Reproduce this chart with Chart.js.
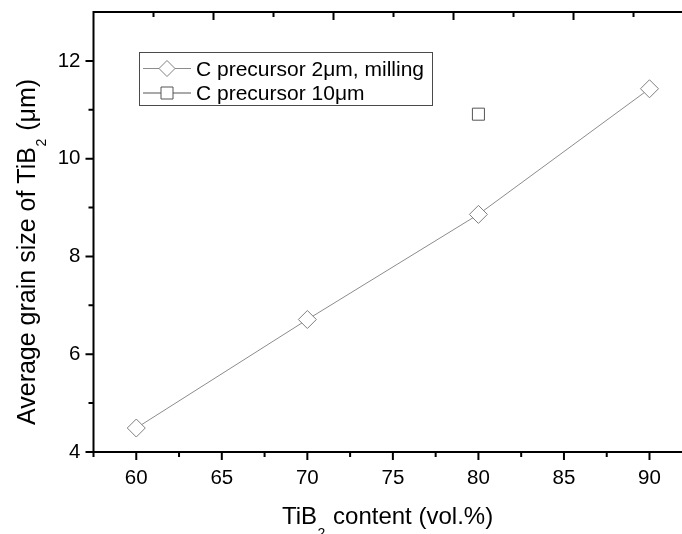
<!DOCTYPE html>
<html>
<head>
<meta charset="utf-8">
<script src="https://cdn.jsdelivr.net/npm/chart.js@4/dist/chart.umd.min.js"></script>
<style>
  html, body { margin: 0; padding: 0; background: #fff; }
  #wrap { width: 682px; height: 534px; }
</style>
</head>
<body>
<div id="wrap"><canvas id="c" width="682" height="534"></canvas></div>
<script>
// TiB2 grain size vs. TiB2 content
const contentMilled = [60, 70, 80, 90];
const grainMilled = [4.49, 6.71, 8.86, 11.43];
const contentCoarse = [80];
const grainCoarse = [10.91];
const seriesLabels = ['C precursor 2\u03bcm, milling', 'C precursor 10\u03bcm'];

const xMajorTicks = [60, 65, 70, 75, 80, 85, 90];
const xMinorTicks = [57.5, 62.5, 67.5, 72.5, 77.5, 82.5, 87.5];
const yMajorTicks = [4, 6, 8, 10, 12];
const yMinorTicks = [5, 7, 9, 11];
const topMajorTicks = [2, 4, 6, 8];
const topMinorTicks = [1, 3, 5, 7, 9];

const FONT = "'Liberation Sans', Arial, Helvetica, sans-serif";
const MILLED_COLOR = '#7f7f7f';
const COARSE_COLOR = '#555555';

// axis frame (left, bottom, top) with major/minor tick marks
const framePlugin = {
  id: 'frame',
  afterDatasetsDraw(chart) {
    const { ctx, chartArea: a, scales } = chart;
    const x = scales.x, y = scales.y, x2 = scales.x2;
    ctx.save();
    ctx.strokeStyle = '#000';
    ctx.lineWidth = 2;
    ctx.lineCap = 'butt';
    ctx.beginPath();
    ctx.moveTo(a.right, a.top);
    ctx.lineTo(a.left, a.top);
    ctx.lineTo(a.left, a.bottom);
    ctx.lineTo(a.right, a.bottom);
    ctx.stroke();

    ctx.beginPath();
    xMajorTicks.forEach(v => { const p = x.getPixelForValue(v); ctx.moveTo(p, a.bottom); ctx.lineTo(p, a.bottom + 8); });
    xMinorTicks.forEach(v => { const p = x.getPixelForValue(v); ctx.moveTo(p, a.bottom); ctx.lineTo(p, a.bottom + 5); });
    yMajorTicks.forEach(v => { const p = y.getPixelForValue(v); ctx.moveTo(a.left - 8, p); ctx.lineTo(a.left, p); });
    yMinorTicks.forEach(v => { const p = y.getPixelForValue(v); ctx.moveTo(a.left - 5, p); ctx.lineTo(a.left, p); });
    topMajorTicks.forEach(v => { const p = x2.getPixelForValue(v); ctx.moveTo(p, a.top); ctx.lineTo(p, a.top + 8); });
    topMinorTicks.forEach(v => { const p = x2.getPixelForValue(v); ctx.moveTo(p, a.top); ctx.lineTo(p, a.top + 5); });
    ctx.stroke();
    ctx.restore();
  }
};

// axis titles with subscripts
const titlePlugin = {
  id: 'axisTitles',
  afterDraw(chart) {
    const { ctx } = chart;
    ctx.save();
    ctx.fillStyle = '#000';
    ctx.textBaseline = 'alphabetic';
    ctx.textAlign = 'left';

    // x title
    const big = '24px ' + FONT, small = '14px ' + FONT;
    let x0 = 282, base = 523.5;
    ctx.font = big;
    ctx.fillText('TiB', x0, base);
    x0 += ctx.measureText('TiB').width + 0.5;
    ctx.font = small;
    ctx.fillText('2', x0, base + 14);
    x0 += ctx.measureText('2').width + 1;
    ctx.font = big;
    ctx.fillText(' content (vol.%)', x0, base);

    // y title (rotated)
    ctx.translate(35, 425);
    ctx.rotate(-Math.PI / 2);
    const yBig = '25px ' + FONT;
    let t = 0;
    ctx.font = yBig;
    ctx.fillText('Average grain size of TiB', t, 0);
    t += ctx.measureText('Average grain size of TiB').width + 0.5;
    ctx.font = small;
    ctx.fillText('2', t, 11);
    t += ctx.measureText('2').width + 1;
    ctx.font = yBig;
    ctx.fillText(' (\u03bcm)', t, 0);
    ctx.restore();
  }
};

// boxed legend inside the plot area
const legendPlugin = {
  id: 'boxLegend',
  afterDraw(chart) {
    const { ctx } = chart;
    const box = { l: 139.5, t: 52.5, r: 432.5, b: 105.5 };
    const rows = [68.5, 93];
    ctx.save();
    ctx.strokeStyle = '#4a4a4a';
    ctx.lineWidth = 1;
    ctx.strokeRect(box.l, box.t, box.r - box.l, box.b - box.t);

    chart.data.datasets.forEach((ds, i) => {
      const cy = rows[i];
      const cx = 167;
      ctx.strokeStyle = ds.borderColor;
      ctx.lineWidth = 1;
      ctx.beginPath();
      ctx.moveTo(143, cy);
      ctx.lineTo(191, cy);
      ctx.stroke();
      ctx.fillStyle = '#fff';
      ctx.strokeStyle = ds.pointBorderColor;
      ctx.beginPath();
      if (ds.pointStyle === 'rectRot') {
        const r = 8;
        ctx.moveTo(cx - r, cy); ctx.lineTo(cx, cy - r); ctx.lineTo(cx + r, cy); ctx.lineTo(cx, cy + r);
        ctx.closePath();
      } else {
        const h = 6;
        ctx.rect(cx - h, cy - h, 2 * h, 2 * h);
      }
      ctx.fill();
      ctx.stroke();
      ctx.fillStyle = '#000';
      ctx.font = '21px ' + FONT;
      ctx.textBaseline = 'middle';
      ctx.textAlign = 'left';
      ctx.fillText(ds.label, 196, cy + 1.5);
    });
    ctx.restore();
  }
};

const noEdgePadding = s => { s.paddingLeft = 0; s.paddingRight = 0; s.paddingTop = 0; s.paddingBottom = 0; };

new Chart(document.getElementById('c'), {
  type: 'scatter',
  data: {
    datasets: [
      {
        label: seriesLabels[0],
        data: contentMilled.map((v, i) => ({ x: v, y: grainMilled[i] })),
        showLine: true,
        borderColor: '#8c8c8c',
        borderWidth: 1,
        pointStyle: 'rectRot',
        pointRadius: 9,
        pointBorderWidth: 1,
        pointBorderColor: MILLED_COLOR,
        pointBackgroundColor: '#fff'
      },
      {
        label: seriesLabels[1],
        data: contentCoarse.map((v, i) => ({ x: v, y: grainCoarse[i] })),
        showLine: false,
        borderColor: COARSE_COLOR,
        borderWidth: 1,
        pointStyle: 'rect',
        pointRadius: 8.5,
        pointBorderWidth: 1,
        pointBorderColor: COARSE_COLOR,
        pointBackgroundColor: '#fff'
      }
    ]
  },
  options: {
    responsive: false,
    animation: false,
    devicePixelRatio: 1,
    layout: { padding: 0, autoPadding: false },
    plugins: { legend: { display: false }, tooltip: { enabled: false } },
    scales: {
      x: {
        type: 'linear',
        position: 'bottom',
        min: 57.5,
        max: 91.9,
        afterBuildTicks: s => { s.ticks = xMajorTicks.map(v => ({ value: v })); },
        afterFit: s => { s.height = 82; noEdgePadding(s); },
        grid: { display: false, drawTicks: false },
        border: { display: false },
        ticks: { color: '#000', font: { family: FONT, size: 20.5 }, padding: 14.5, maxRotation: 0, autoSkip: false }
      },
      x2: {
        type: 'linear',
        position: 'top',
        min: 0,
        max: 9.808,
        afterFit: s => { s.height = 12; noEdgePadding(s); },
        grid: { display: false, drawTicks: false },
        border: { display: false },
        ticks: { display: false }
      },
      y: {
        type: 'linear',
        position: 'left',
        min: 4,
        max: 13,
        afterBuildTicks: s => { s.ticks = yMajorTicks.map(v => ({ value: v })); },
        afterFit: s => { s.width = 93.5; noEdgePadding(s); },
        grid: { display: false, drawTicks: false },
        border: { display: false },
        ticks: { color: '#000', font: { family: FONT, size: 20.5 }, padding: 13 }
      }
    }
  },
  plugins: [framePlugin, legendPlugin, titlePlugin]
});
</script>
</body>
</html>
